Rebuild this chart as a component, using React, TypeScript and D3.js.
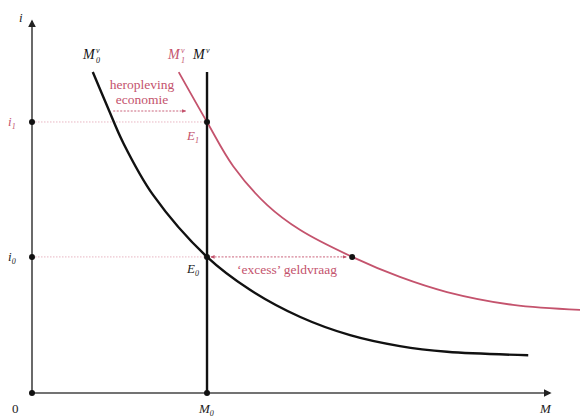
import React from "react";
import * as d3 from "d3";

const W = 580;
const H = 418;

// Money demand curve before (M0v) — [M, i]
const demand0: [number, number][] = [
  [1.16, 8.49], [1.45, 7.54], [1.74, 6.62], [2.31, 5.24], [3.34, 3.6],
  [4.16, 2.73], [5.12, 2.01], [6.07, 1.53], [7.02, 1.24], [7.92, 1.09], [9.47, 1.0],
];
// Money demand curve after economic recovery (M1v)
const demand1: [number, number][] = [
  [2.8, 8.49], [3.34, 7.17], [3.84, 6.0], [4.49, 4.97], [5.12, 4.31],
  [6.11, 3.6], [7.02, 3.07], [7.92, 2.67], [9.18, 2.33], [10.46, 2.2],
];
const M0 = 3.34;
const i0 = 3.6;
const i1 = 7.17;
const supplyTop = 8.49;
const excessEnd = 6.11;

const PINK = "#c4536d";
const PINK_LIGHT = "#e2a3b2";
const FONT = "'Liberation Serif', 'DejaVu Serif', serif";

export default function App() {
  const x = d3.scaleLinear().domain([0, 10]).range([32, 556]);
  const y = d3.scaleLinear().domain([0, 10]).range([393, 15]);
  const line = d3
    .line<[number, number]>()
    .x((d) => x(d[0]))
    .y((d) => y(d[1]))
    .curve(d3.curveCatmullRom.alpha(0.5));

  const dots: [number, number][] = [
    [0, 0], [M0, 0], [0, i1], [0, i0], [M0, i1], [M0, i0], [excessEnd, i0],
  ];

  return (
    <svg width={W} height={H} style={{ position: "absolute", left: 0, top: 0, background: "#fff" }}>
      <defs>
        <marker id="ax" viewBox="0 0 10 10" refX="8" refY="5" markerWidth="5" markerHeight="5" orient="auto">
          <path d="M0,0 L10,5 L0,10 z" fill="#222" />
        </marker>
        <marker id="pk" viewBox="0 0 10 10" refX="8" refY="5" markerWidth="5" markerHeight="5" orient="auto-start-reverse">
          <path d="M0,1 L10,5 L0,9 z" fill={PINK} />
        </marker>
      </defs>

      {/* guide lines */}
      <line x1={x(0)} x2={x(M0)} y1={y(i1)} y2={y(i1)} stroke={PINK_LIGHT} strokeWidth={0.8} strokeDasharray="1.5,1.5" />
      <line x1={x(0)} x2={x(M0)} y1={y(i0)} y2={y(i0)} stroke={PINK_LIGHT} strokeWidth={0.8} strokeDasharray="1.5,1.5" />

      {/* axes */}
      <line x1={x(0)} x2={x(0)} y1={y(0)} y2={y(10) + 6} stroke="#444" strokeWidth={1.6} markerEnd="url(#ax)" />
      <line x1={x(0)} x2={x(10) - 6} y1={y(0)} y2={y(0)} stroke="#444" strokeWidth={1.6} markerEnd="url(#ax)" />

      {/* supply */}
      <line x1={x(M0)} x2={x(M0)} y1={y(0)} y2={y(supplyTop)} stroke="#111" strokeWidth={2.4} />

      {/* demand curves */}
      <path d={line(demand1) || ""} fill="none" stroke={PINK} strokeWidth={1.8} />
      <path d={line(demand0) || ""} fill="none" stroke="#111" strokeWidth={2.4} />

      {/* arrows */}
      <line x1={x(1.55)} x2={x(2.93)} y1={y(7.46)} y2={y(7.46)} stroke={PINK} strokeWidth={0.9} strokeDasharray="2,1.5" markerEnd="url(#pk)" />
      <line x1={x(M0) + 4} x2={x(excessEnd) - 6} y1={y(i0)} y2={y(i0)} stroke={PINK} strokeWidth={0.9} strokeDasharray="2,1.5" markerStart="url(#pk)" markerEnd="url(#pk)" />

      {dots.map((d, k) => (
        <circle key={k} cx={x(d[0])} cy={y(d[1])} r={3} fill="#111" />
      ))}

      <g fontFamily={FONT} fontStyle="italic">
        <text x={x(0) - 13} y={22} fontSize={13} fill="#222">i</text>
        <text x={x(0) - 24} y={y(i1) + 4} fontSize={13} fill={PINK}>i<tspan fontSize={8} dy={3}>1</tspan></text>
        <text x={x(0) - 24} y={y(i0) + 4} fontSize={13} fill="#222">i<tspan fontSize={8} dy={3}>0</tspan></text>
        <text x={x(0) - 20} y={413} fontSize={13} fontStyle="normal" fill="#222">0</text>
        <text x={x(M0) - 8} y={413} fontSize={13} fill="#222">M<tspan fontSize={8} dy={3}>0</tspan></text>
        <text x={540} y={413} fontSize={13} fill="#222">M</text>

        <text x={83} y={59} fontSize={14} fill="#111">M</text>
        <text x={96} y={53} fontSize={8} fill="#111">v</text>
        <text x={96} y={63} fontSize={8} fill="#111">0</text>

        <text x={168} y={59} fontSize={14} fill={PINK}>M</text>
        <text x={181} y={53} fontSize={8} fill={PINK}>v</text>
        <text x={181} y={63} fontSize={8} fill={PINK}>1</text>

        <text x={193} y={59} fontSize={14} fill="#111">M</text>
        <text x={206} y={53} fontSize={8} fill="#111">v</text>

        <text x={x(M0) - 20} y={y(i1) + 18} fontSize={13} fill={PINK}>E<tspan fontSize={8} dy={3}>1</tspan></text>
        <text x={x(M0) - 20} y={y(i0) + 16} fontSize={13} fill="#222">E<tspan fontSize={8} dy={3}>0</tspan></text>
      </g>

      <g fontFamily={FONT} fontSize={13.5} fill={PINK} textAnchor="middle">
        <text x={142} y={89}>heropleving</text>
        <text x={142} y={104}>economie</text>
        <text x={287} y={274}>‘excess’ geldvraag</text>
      </g>
    </svg>
  );
}
